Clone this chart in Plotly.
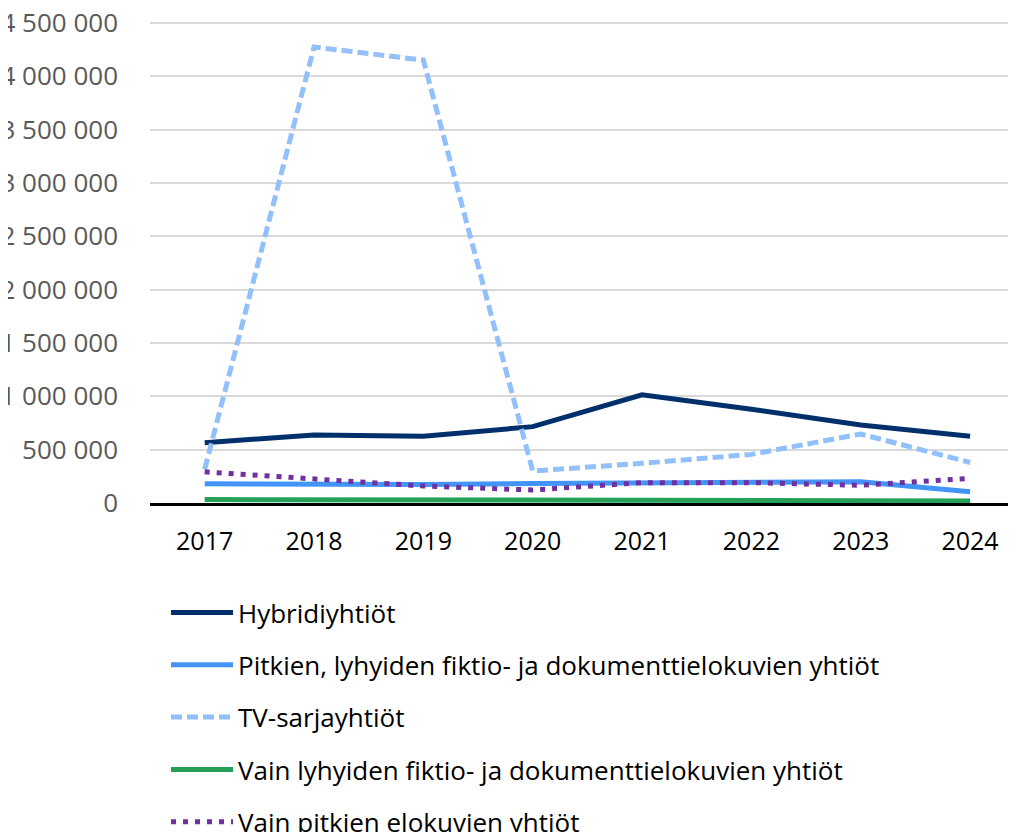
import plotly.graph_objects as go

years = ["2017", "2018", "2019", "2020", "2021", "2022", "2023", "2024"]

hybridi = [566000, 637000, 625000, 716000, 1015000, 880000, 731000, 626000]
pitkien_lyhyiden = [180000, 175000, 173000, 182000, 191000, 191000, 200000, 106000]
tv_sarja = [315000, 4275000, 4153000, 300000, 372000, 456000, 647000, 380000]
vain_lyhyiden = [32000, 32000, 30000, 28000, 28000, 22000, 22000, 19000]
vain_pitkien = [292000, 222000, 159000, 122000, 191000, 191000, 166000, 231000]

names = [
    "Hybridiyhtiöt",
    "Pitkien, lyhyiden fiktio- ja dokumenttielokuvien yhtiöt",
    "TV-sarjayhtiöt",
    "Vain lyhyiden fiktio- ja dokumenttielokuvien yhtiöt",
    "Vain pitkien elokuvien yhtiöt",
]
series = [hybridi, pitkien_lyhyiden, tv_sarja, vain_lyhyiden, vain_pitkien]
colors = ["#00306B", "#4394F8", "#92C0FA", "#24A058", "#7030A0"]
dashes = ["solid", "solid", "11px,5px", "solid", "5px,7px"]
yticks = [0, 500000, 1000000, 1500000, 2000000, 2500000, 3000000, 3500000, 4000000, 4500000]

FONT = "Open Sans, Noto Sans, sans-serif"

fig = go.Figure()
order = [3, 1, 0, 2, 4]
for i in order:
    fig.add_trace(go.Scatter(
        x=years, y=series[i], name=names[i], mode="lines",
        line=dict(color=colors[i], width=5, dash=dashes[i]),
        legendrank=i + 1, legendgroup=str(i),
        hoverinfo="skip",
    ))

fig.update_layout(
    width=1008, height=824,
    margin=dict(l=142, r=0, t=14, b=329, autoexpand=False),
    paper_bgcolor="white", plot_bgcolor="white",
    separators=", ",
    font=dict(family=FONT, size=24, color="#000000"),
    showlegend=True,
    legend=dict(
        orientation="v", x=0.0185, xanchor="left", y=-0.179, yanchor="top",
        font=dict(family=FONT, size=26, color="#000000"),
        itemwidth=62, tracegroupgap=15.5, traceorder="grouped",
        bgcolor="rgba(0,0,0,0)",
    ),
    xaxis=dict(
        type="category", range=[-0.5, 7.42],
        showgrid=False, showline=True, linecolor="#000000", linewidth=2.5,
        ticks="", tickfont=dict(family=FONT, size=25, color="#000000"),
        ticklabelstandoff=14, zeroline=False, fixedrange=True,
    ),
    yaxis=dict(
        range=[0, 4510000], tickvals=yticks, tickformat=",d",
        showgrid=True, gridcolor="#D9D9D9", gridwidth=1.5,
        showline=False, zeroline=False, ticks="",
        tickfont=dict(family=FONT, size=26, color="#595959"),
        ticklabelstandoff=31, ticklabeloverflow="allow",
        automargin=False, fixedrange=True,
    ),
)

fig.write_html("out.html")
